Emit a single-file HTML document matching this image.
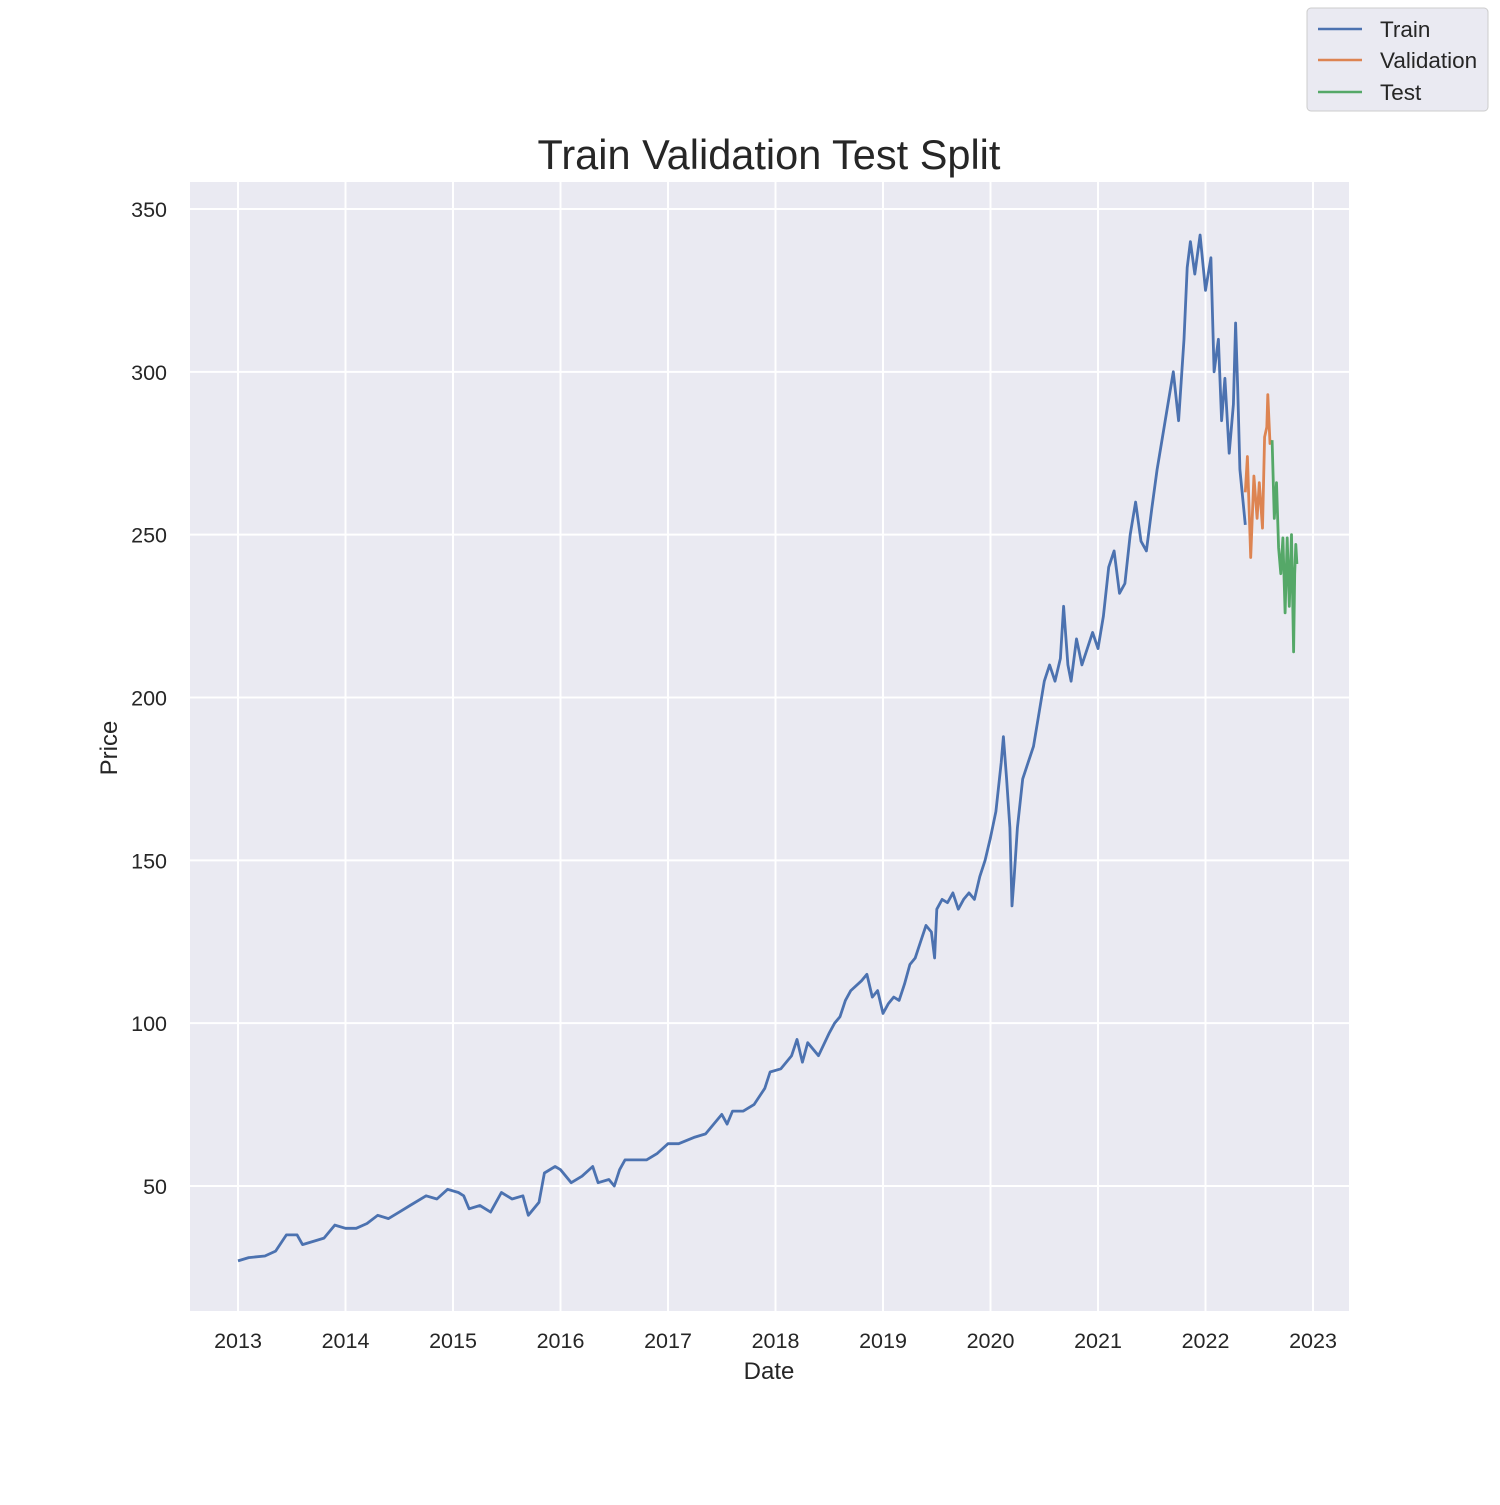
<!DOCTYPE html>
<html><head><meta charset="utf-8"><style>
body{margin:0;background:#fff;font-family:"Liberation Sans",sans-serif;}
</style></head><body>
<svg id="chart" width="1500" height="1500" xmlns="http://www.w3.org/2000/svg" style="font-family:'Liberation Sans',sans-serif">
<rect x="190" y="182" width="1159" height="1129" fill="#eaeaf2"/>
<g id="grid"></g>
<g id="series"></g>
<g id="ticks"></g>
<text x="769" y="169" font-size="41.5" text-anchor="middle" fill="#262626">Train Validation Test Split</text>
<text x="769" y="1379" font-size="24" text-anchor="middle" fill="#262626">Date</text>
<text x="117" y="748" font-size="24" text-anchor="middle" fill="#262626" transform="rotate(-90 117 748)">Price</text>
<g>
<rect x="1307" y="8" width="181" height="103" rx="4" fill="#eaeaf2" stroke="#cccccc"/>
<line x1="1318" y1="29" x2="1362" y2="29" stroke="#4c72b0" stroke-width="2.5"/>
<text x="1380" y="37" font-size="22.5" fill="#262626">Train</text>
<line x1="1318" y1="60" x2="1362" y2="60" stroke="#dd8452" stroke-width="2.5"/>
<text x="1380" y="68" font-size="22.5" fill="#262626">Validation</text>
<line x1="1318" y1="92" x2="1362" y2="92" stroke="#55a868" stroke-width="2.5"/>
<text x="1380" y="100" font-size="22.5" fill="#262626">Test</text>
</g>
</svg>
<script>
const yTicks=[50,100,150,200,250,300,350];
const xTicks=[2013,2014,2015,2016,2017,2018,2019,2020,2021,2022,2023];
const trainDates=[2013.0,2013.1,2013.25,2013.35,2013.45,2013.55,2013.6,2013.7,2013.8,2013.9,2014.0,2014.1,2014.2,2014.3,2014.4,2014.5,2014.6,2014.75,2014.85,2014.95,2015.05,2015.1,2015.15,2015.25,2015.35,2015.45,2015.55,2015.65,2015.7,2015.8,2015.85,2015.95,2016.0,2016.1,2016.2,2016.3,2016.35,2016.45,2016.5,2016.55,2016.6,2016.7,2016.8,2016.9,2017.0,2017.1,2017.25,2017.35,2017.45,2017.5,2017.55,2017.6,2017.7,2017.8,2017.9,2017.95,2018.05,2018.15,2018.2,2018.25,2018.3,2018.35,2018.4,2018.5,2018.55,2018.6,2018.65,2018.7,2018.8,2018.85,2018.9,2018.95,2019.0,2019.05,2019.1,2019.15,2019.2,2019.25,2019.3,2019.35,2019.4,2019.45,2019.48,2019.5,2019.55,2019.6,2019.65,2019.7,2019.75,2019.8,2019.85,2019.9,2019.95,2020.0,2020.05,2020.1,2020.12,2020.15,2020.18,2020.2,2020.22,2020.25,2020.3,2020.35,2020.4,2020.45,2020.5,2020.55,2020.6,2020.65,2020.68,2020.72,2020.75,2020.8,2020.85,2020.9,2020.95,2021.0,2021.05,2021.1,2021.15,2021.2,2021.25,2021.3,2021.35,2021.4,2021.45,2021.5,2021.55,2021.6,2021.65,2021.7,2021.75,2021.8,2021.83,2021.86,2021.9,2021.95,2022.0,2022.05,2022.08,2022.12,2022.15,2022.18,2022.22,2022.26,2022.28,2022.3,2022.32,2022.35,2022.37];
const trainValues=[27,28,28.5,30,35,35,32,33,34,38,37,37,38.5,41,40,42,44,47,46,49,48,47,43,44,42,48,46,47,41,45,54,56,55,51,53,56,51,52,50,55,58,58,58,60,63,63,65,66,70,72,69,73,73,75,80,85,86,90,95,88,94,92,90,97,100,102,107,110,113,115,108,110,103,106,108,107,112,118,120,125,130,128,120,135,138,137,140,135,138,140,138,145,150,157,165,180,188,175,160,136,145,160,175,180,185,195,205,210,205,212,228,210,205,218,210,215,220,215,225,240,245,232,235,250,260,248,245,258,270,280,290,300,285,310,332,340,330,342,325,335,300,310,285,298,275,290,315,295,270,260,253];
const valDates=[2022.37,2022.39,2022.42,2022.45,2022.48,2022.5,2022.53,2022.55,2022.57,2022.58,2022.6,2022.62];
const valValues=[263,274,243,268,255,266,252,280,283,293,278,279];
const testDates=[2022.62,2022.64,2022.66,2022.68,2022.7,2022.72,2022.74,2022.76,2022.78,2022.8,2022.82,2022.83,2022.84,2022.85];
const testValues=[279,255,266,246,238,249,226,249,228,250,214,238,247,241];

const NS="http://www.w3.org/2000/svg";
const xS=d=>238+(d-2013)*107.5;
const yS=v=>1186-(v-50)*3.2567;
const grid=document.getElementById('grid'),ticks=document.getElementById('ticks'),series=document.getElementById('series');
yTicks.forEach(t=>{
  const l=document.createElementNS(NS,'line');
  
  
  l.setAttribute('x1',190);l.setAttribute('x2',1349);l.setAttribute('y1',yS(t));l.setAttribute('y2',yS(t));
  l.setAttribute('stroke','#fff');l.setAttribute('stroke-width','2');grid.appendChild(l);
  const tx=document.createElementNS(NS,'text');
  
  
  tx.setAttribute('x',167);tx.setAttribute('y',yS(t)+8);tx.setAttribute('text-anchor','end');
  tx.setAttribute('font-size','21.5');tx.setAttribute('fill','#262626');tx.textContent=t;ticks.appendChild(tx);
});
xTicks.forEach(t=>{
  const l=document.createElementNS(NS,'line');
  
  
  l.setAttribute('y1',182);l.setAttribute('y2',1311);l.setAttribute('x1',xS(t));l.setAttribute('x2',xS(t));
  l.setAttribute('stroke','#fff');l.setAttribute('stroke-width','2');grid.appendChild(l);
  const tx=document.createElementNS(NS,'text');
  
  
  tx.setAttribute('x',xS(t));tx.setAttribute('y',1348);tx.setAttribute('text-anchor','middle');
  tx.setAttribute('font-size','21.5');tx.setAttribute('fill','#262626');tx.textContent=t;ticks.appendChild(tx);
});
function draw(ds,vs,color,name){
  const p=document.createElementNS(NS,'polyline');
  
  
  p.setAttribute('points',ds.map((d,i)=>xS(d).toFixed(1)+','+yS(vs[i]).toFixed(1)).join(' '));
  p.setAttribute('fill','none');p.setAttribute('stroke',color);p.setAttribute('stroke-width','2.8');
  p.setAttribute('stroke-linejoin','round');series.appendChild(p);
}
draw(trainDates,trainValues,'#4c72b0','train-line');
draw(valDates,valValues,'#dd8452','validation-line');
draw(testDates,testValues,'#55a868','test-line');
</script>
</body></html>
